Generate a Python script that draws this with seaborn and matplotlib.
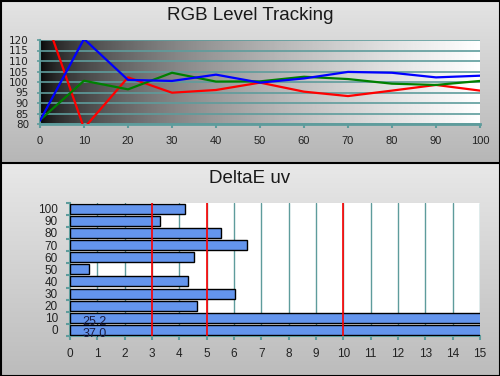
import numpy as np
import pandas as pd
import matplotlib
matplotlib.use('Agg')
import matplotlib.pyplot as plt
from matplotlib.colors import LinearSegmentedColormap
import seaborn as sb

# RGB level tracking (stimulus level in %, relative level in %)
levels = [0, 10, 20, 30, 40, 50, 60, 70, 80, 90, 100]
red = [138, 78, 102.2, 94.9, 96.2, 99.7, 95.4, 93.3, 95.9, 98.6, 95.9]
green = [81.9, 100.6, 96.5, 104.4, 100.2, 100.3, 102.5, 101.4, 99.2, 98.6, 100.5]
blue = [81.6, 120.5, 101.0, 100.5, 103.5, 99.7, 101.7, 104.8, 104.4, 102.2, 103.0]

# DeltaE uv per level
de_levels = ["100", "90", "80", "70", "60", "50", "40", "30", "20", "10", "0"]
de_values = [4.22, 3.3, 5.54, 6.49, 4.55, 0.71, 4.3, 6.05, 4.63, 25.2, 37.0]
de_limits = [3, 5, 10]

sb.set_style("white")
plt.rcParams['font.family'] = ['Liberation Sans', 'DejaVu Sans']

teal = '#5e9c9c'
W, H = 500, 376
fig = plt.figure(figsize=(W / 100, H / 100), dpi=100)

# Panel backgrounds
bg = fig.add_axes([0, 0, 1, 1])
bg.set_xlim(0, W)
bg.set_ylim(H, 0)
bg.axis('off')
grad = np.linspace(0, 1, 200).reshape(-1, 1)
cm_top = LinearSegmentedColormap.from_list('t', ['#e4e4e4', '#b6b6b6'])
cm_bot = LinearSegmentedColormap.from_list('b', ['#e8e8e8', '#bcbcbc'])
bg.imshow(grad, cmap=cm_top, extent=[0, W, 163, 0], aspect='auto')
bg.imshow(grad, cmap=cm_bot, extent=[0, W, H, 163], aspect='auto')
bg.set_xlim(0, W)
bg.set_ylim(H, 0)
for y in [0.5, 163, H - 0.5]:
    bg.plot([0, W], [y, y], color='black', lw=1.5)
for x in [0.5, W - 0.5]:
    bg.plot([x, x], [0, H], color='black', lw=1.5)
bg.text(250, 20, "RGB Level Tracking", ha='center', va='baseline', fontsize=13.5, color='#1a1a1a')
bg.text(250, 183, "DeltaE uv", ha='center', va='baseline', fontsize=13.5, color='#1a1a1a')

# Top chart
ax1 = fig.add_axes([40 / W, 1 - 124 / H, 440 / W, 84 / H])
xs = np.linspace(0, 1, 400)
ax1.imshow((xs ** 0.55).reshape(1, -1), cmap='gray', vmin=0, vmax=1,
           extent=[0, 100, 80, 120], aspect='auto', zorder=0)
df = pd.DataFrame({
    'level': levels * 3,
    'value': red + green + blue,
    'channel': ['R'] * len(levels) + ['G'] * len(levels) + ['B'] * len(levels),
})
sb.lineplot(data=df, x='level', y='value', hue='channel',
            palette={'R': '#ff0000', 'G': '#008000', 'B': '#0000ff'},
            linewidth=1.6, legend=False, ax=ax1, zorder=3)
ax1.set_xlim(0, 100)
ax1.set_ylim(80, 120)
ax1.set_xticks(levels)
ax1.set_yticks(np.arange(80, 121, 5))
ax1.grid(axis='y', color=teal, lw=1.2)
ax1.grid(axis='x', visible=False)
ax1.set_xlabel('')
ax1.set_ylabel('')
for s in ['top', 'right']:
    ax1.spines[s].set_visible(False)
ax1.spines['left'].set_color(teal)
ax1.spines['left'].set_linewidth(1.5)
ax1.spines['bottom'].set_color(teal)
ax1.spines['bottom'].set_linewidth(2)
ax1.tick_params(axis='x', colors=teal, labelcolor='#222222', length=3, width=1.5,
                direction='out', labelsize=8, pad=6, bottom=True)
ax1.tick_params(axis='y', colors=teal, labelcolor='#222222', length=2, width=1.2,
                direction='out', labelsize=7.5, pad=6, left=True)
for lab in ax1.get_yticklabels():
    lab.set_family('DejaVu Sans')

# Bottom chart
ax2 = fig.add_axes([70 / W, 1 - 336 / H, 410 / W, 133.3 / H])
ax2.set_facecolor('white')
sb.barplot(x=de_values, y=de_levels, order=de_levels, orient='h', color='#6495ed',
           saturation=1, edgecolor='black', linewidth=1, width=0.82, ax=ax2, zorder=3)
ax2.set_xlim(0, 15)
ax2.set_ylim(len(de_levels) - 0.5, -0.5)
ax2.set_xticks(range(16))
for x in range(1, 16):
    ax2.axvline(x, color=teal, lw=1, zorder=1)
for x in de_limits:
    ax2.axvline(x, color='#ff0000', lw=1.2, zorder=4)
for i, v in enumerate(de_values):
    if v > 15:
        ax2.text(0.45, i + 0.33, f"{v:.1f}", ha='left', va='center', fontsize=9,
                 color='#1c1c40', zorder=5, clip_on=False)
ax2.set_yticks(np.arange(-0.5, len(de_levels), 1), minor=True)
ax2.set_xlabel('')
ax2.set_ylabel('')
for s in ['top', 'right']:
    ax2.spines[s].set_visible(False)
ax2.spines['left'].set_color(teal)
ax2.spines['left'].set_linewidth(1.5)
ax2.spines['bottom'].set_color(teal)
ax2.spines['bottom'].set_linewidth(1.5)
ax2.tick_params(axis='x', colors=teal, labelcolor='#222222', length=3, width=1.5,
                direction='out', labelsize=8.5, pad=5.5, bottom=True)
ax2.tick_params(axis='y', which='major', length=0, labelcolor='#222222', labelsize=8.5, pad=8.6)
ax2.tick_params(axis='y', which='minor', colors=teal, length=3, width=1.5,
                direction='out', left=True)

fig.savefig('out.png', dpi=100)
